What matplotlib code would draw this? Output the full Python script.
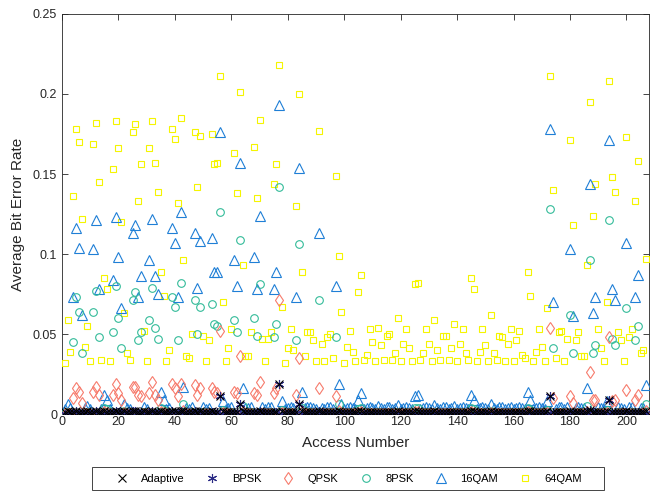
import numpy as np
import matplotlib
matplotlib.use("Agg")
import matplotlib.pyplot as plt
from matplotlib.lines import Line2D
from matplotlib.patches import Rectangle

plt.rcParams['font.family'] = ['Liberation Sans', 'DejaVu Sans']

# bit error rates, in units of 1e-3, one value per access number
adaptive = [
    1.2, 1.6, 1.1, 1.4, 1.8, 1.5, 1.3, 1.0, 1.7, 1.2,
    1.5, 1.9, 1.2, 1.0, 1.6, 1.4, 1.1, 1.3, 2.0, 1.5,
    1.3, 1.7, 1.0, 1.2, 1.8, 1.9, 1.3, 1.4, 1.6, 1.1,
    1.5, 2.0, 1.4, 1.2, 1.7, 1.5, 1.0, 1.2, 1.8, 1.6,
    1.2, 2.1, 1.8, 1.1, 1.0, 1.4, 1.7, 1.3, 1.6, 1.4,
    1.0, 1.3, 1.6, 1.4, 1.3, 11, 1.6, 1.0, 1.2, 1.5,
    1.4, 1.2, 6, 1.8, 1.1, 1.0, 1.4, 1.5, 1.2, 2.0,
    1.3, 1.0, 1.3, 1.4, 1.2, 1.3, 19, 1.6, 1.0, 1.2,
    1.5, 1.1, 1.1, 6, 1.7, 1.0, 1.4, 1.4, 1.3, 1.0,
    1.7, 1.2, 1.0, 1.3, 1.4, 1.0, 1.2, 1.9, 1.5, 1.0,
    1.2, 1.4, 1.1, 1.0, 1.6, 1.8, 1.0, 1.1, 1.5, 1.2,
    1.0, 1.5, 1.2, 1.0, 1.4, 1.4, 1.0, 1.1, 1.6, 1.0,
    1.2, 1.5, 1.2, 1.0, 1.7, 1.8, 1.0, 1.1, 1.5, 1.2,
    1.0, 1.6, 1.1, 1.0, 1.4, 1.4, 1.0, 1.2, 1.5, 1.0,
    1.2, 1.5, 1.1, 1.0, 1.8, 1.7, 1.0, 1.1, 1.5, 1.2,
    1.0, 1.6, 1.1, 1.0, 1.4, 1.4, 1.0, 1.2, 1.5, 1.0,
    1.3, 1.5, 1.1, 1.0, 1.8, 1.7, 1.0, 1.1, 1.5, 1.2,
    1.0, 1.7, 11, 1.3, 1.0, 1.4, 1.5, 1.0, 1.4, 1.6,
    1.2, 1.3, 1.4, 1.1, 1.1, 1.8, 2.5, 1.2, 1.4, 1.5,
    1.2, 1.0, 1.7, 9, 1.4, 1.3, 1.4, 1.3, 1.0, 1.6,
    1.3, 1.5, 1.2, 1.5, 1.1, 1.2, 1.8]

bpsk = [
    0.05, 0.1, 0.05, 1.0, 1.6, 1.4, 0.8, 0.05, 0.1, 0.05,
    1.4, 1.7, 1.1, 0.05, 0.3, 0.2, 0.05, 1.2, 1.8, 1.3,
    0.8, 0.15, 0.05, 0.05, 1.6, 1.7, 1.0, 1.2, 0.1, 0.05,
    1.3, 1.8, 1.2, 1.0, 0.3, 0.2, 0.05, 0.05, 1.6, 1.4,
    1.0, 1.9, 0.4, 0.05, 0.05, 0.1, 1.6, 1.1, 1.5, 0.1,
    0.05, 0.1, 1.5, 1.2, 1.2, 11, 0.2, 0.05, 0.05, 0.1,
    1.3, 1.0, 6, 0.4, 0.05, 0.05, 0.1, 1.4, 1.0, 1.9,
    0.1, 0.05, 0.1, 0.1, 1.1, 1.2, 19, 0.2, 0.05, 0.05,
    0.1, 0.05, 0.9, 6, 0.3, 0.05, 0.1, 0.1, 0.1, 0.05,
    1.6, 0.05, 0.05, 0.1, 0.1, 0.05, 1.1, 0.4, 0.15, 0.05,
    0.05, 0.1, 0.05, 0.05, 0.2, 0.3, 0.05, 0.05, 0.1, 0.05,
    0.05, 0.1, 0.05, 0.05, 0.1, 0.1, 0.05, 0.05, 0.15, 0.05,
    0.05, 0.1, 0.05, 0.05, 0.3, 0.3, 0.05, 0.05, 0.1, 0.05,
    0.05, 0.15, 0.05, 0.05, 0.1, 0.1, 0.05, 0.05, 0.1, 0.05,
    0.05, 0.1, 0.05, 0.05, 0.3, 0.2, 0.05, 0.05, 0.1, 0.05,
    0.05, 0.15, 0.05, 0.05, 0.1, 0.1, 0.05, 0.05, 0.1, 0.05,
    0.05, 0.1, 0.05, 0.05, 0.3, 0.2, 0.05, 0.05, 0.1, 0.05,
    0.05, 0.2, 11, 1.0, 0.05, 0.1, 0.1, 0.05, 0.1, 1.5,
    0.8, 0.1, 0.1, 0.05, 0.05, 0.4, 2.5, 0.9, 1.1, 0.1,
    0.05, 0.05, 0.2, 9, 1.1, 1.0, 0.1, 0.1, 0.05, 1.5,
    0.1, 0.1, 1.0, 1.2, 0.05, 0.05, 0.4]

qpsk = [
    0.1, 0.3, 0.1, 10, 16, 14, 7, 0.15, 0.2, 0.1,
    14, 17, 12, 0.1, 1, 0.8, 0.1, 12, 19, 13,
    9, 0.4, 0.1, 0.1, 17, 17, 12, 11, 0.2, 0.1,
    13, 20, 12, 9, 1.2, 0.7, 0.1, 0.1, 19, 16,
    11, 19, 2, 0.1, 0.1, 0.2, 18, 12, 16, 0.2,
    0.1, 0.2, 16, 14, 13, 52, 0.6, 0.1, 0.15, 0.2,
    14, 13, 36, 1.5, 0.1, 0.1, 0.2, 13, 12, 20,
    0.2, 0.1, 0.2, 0.2, 13, 16, 71, 0.6, 0.1, 0.15,
    0.2, 0.1, 12, 35, 1.2, 0.1, 0.2, 0.2, 0.2, 0.1,
    16, 0.15, 0.1, 0.2, 0.2, 0.1, 11, 2, 0.4, 0.1,
    0.15, 0.2, 0.1, 0.1, 0.8, 1.2, 0.1, 0.1, 0.2, 0.15,
    0.1, 0.2, 0.15, 0.1, 0.2, 0.2, 0.1, 0.1, 0.3, 0.1,
    0.15, 0.2, 0.15, 0.1, 1, 1, 0.1, 0.1, 0.2, 0.15,
    0.1, 0.3, 0.1, 0.1, 0.2, 0.2, 0.1, 0.15, 0.25, 0.1,
    0.15, 0.2, 0.1, 0.1, 1, 0.8, 0.1, 0.1, 0.2, 0.15,
    0.1, 0.4, 0.1, 0.1, 0.2, 0.2, 0.1, 0.15, 0.2, 0.1,
    0.15, 0.2, 0.1, 0.1, 1.2, 0.7, 0.1, 0.1, 0.2, 0.15,
    0.1, 0.6, 54, 10, 0.1, 0.2, 0.2, 0.1, 0.2, 11,
    7, 0.15, 0.2, 0.1, 0.1, 1.5, 26, 9, 9, 0.2,
    0.15, 0.1, 0.6, 48, 8, 9, 0.2, 0.2, 0.1, 15,
    0.2, 0.2, 9, 12, 0.1, 0.1, 2]

psk8 = [
    0.4, 1.5, 0.5, 45, 73, 64, 38, 0.6, 1.2, 0.4,
    64, 77, 48, 0.4, 3.5, 3, 0.4, 51, 80, 60,
    41, 2, 0.5, 0.4, 71, 76, 46, 51, 1, 0.4,
    59, 79, 54, 47, 4, 2.5, 0.4, 0.5, 73, 67,
    46, 82, 6, 0.5, 0.4, 1, 71, 50, 67, 1,
    0.4, 0.8, 69, 56, 55, 126, 2.5, 0.4, 0.6, 1,
    59, 51, 109, 5, 0.5, 0.5, 1, 60, 49, 81,
    0.9, 0.4, 0.9, 1, 48, 56, 142, 2.5, 0.4, 0.6,
    1, 0.5, 46, 106, 4, 0.5, 1, 1, 0.8, 0.4,
    71, 0.7, 0.4, 0.9, 1, 0.4, 48, 6, 2, 0.4,
    0.6, 1, 0.5, 0.4, 3, 4, 0.4, 0.5, 1, 0.7,
    0.4, 1.2, 0.6, 0.4, 0.9, 1, 0.4, 0.5, 1.5, 0.4,
    0.7, 1, 0.6, 0.4, 3.5, 3.5, 0.4, 0.5, 1, 0.7,
    0.4, 1.5, 0.5, 0.4, 0.9, 0.9, 0.4, 0.6, 1.2, 0.4,
    0.7, 1, 0.5, 0.4, 3.5, 3, 0.4, 0.5, 1, 0.6,
    0.4, 2, 0.5, 0.4, 0.9, 0.9, 0.4, 0.7, 1, 0.4,
    0.8, 1, 0.5, 0.4, 4, 2.5, 0.4, 0.5, 1, 0.6,
    0.4, 2.5, 128, 41, 0.4, 1, 1, 0.4, 0.9, 62,
    38, 0.8, 1, 0.5, 0.5, 5, 96, 38, 43, 1,
    0.6, 0.4, 2.5, 121, 47, 43, 1, 0.8, 0.4, 66,
    0.9, 1, 46, 55, 0.5, 0.5, 6]

qam16 = [
    3, 6, 3.5, 73, 116, 104, 62, 4, 5, 3,
    103, 121, 78, 3, 12, 9, 3, 84, 123, 98,
    66, 6, 3.5, 3, 113, 118, 73, 86, 4.5, 3,
    96, 122, 86, 75, 14, 9, 3, 3.5, 116, 107,
    73, 126, 17, 3.5, 3, 4.5, 113, 79, 108, 4.5,
    3, 4, 110, 89, 89, 176, 8, 3, 4, 4.5,
    96, 80, 157, 16, 3.5, 3.5, 4.5, 98, 78, 124,
    4.5, 3, 4.5, 4.5, 78, 89, 193, 8, 3, 4,
    4.5, 3.5, 73, 154, 14, 3.5, 4.5, 4.5, 4, 3,
    113, 4, 3, 4.5, 4.5, 3, 80, 19, 6, 3,
    4, 4.5, 3.5, 3, 9, 13, 3, 3.5, 4.5, 4,
    3, 5, 4, 3, 4.5, 4.5, 3, 3.5, 5.5, 3,
    4, 4.5, 4, 3, 11, 12, 3, 3.5, 4.5, 4,
    3, 5.5, 3.5, 3, 4.5, 4.5, 3, 4, 5, 3,
    4, 4.5, 3.5, 3, 12, 9, 3, 3.5, 4.5, 4,
    3, 6, 3.5, 3, 4.5, 4.5, 3, 4, 4.5, 3,
    4, 4.5, 3.5, 3, 14, 9, 3, 3.5, 4.5, 4,
    3, 8, 178, 70, 3, 4.5, 4.5, 3, 4.5, 103,
    61, 4, 4.5, 3.5, 3.5, 16, 144, 63, 73, 4.5,
    4, 3, 8, 171, 78, 71, 4.5, 4, 3, 107,
    4.5, 4.5, 73, 87, 3.5, 3.5, 18]

qam64 = [
    32, 59, 39, 136, 178, 170, 122, 42, 55, 33,
    169, 182, 145, 34, 85, 78, 33, 153, 183, 166,
    120, 63, 38, 34, 176, 181, 133, 156, 52, 33,
    166, 183, 157, 139, 89, 74, 33, 40, 178, 172,
    132, 185, 96, 36, 35, 50, 176, 142, 174, 49,
    33, 46, 175, 156, 157, 211, 70, 33, 41, 53,
    163, 138, 201, 93, 36, 36, 51, 167, 135, 184,
    47, 33, 47, 51, 144, 156, 218, 67, 32, 41,
    53, 40, 130, 200, 89, 36, 51, 51, 46, 33,
    177, 44, 33, 48, 50, 35, 149, 99, 64, 32,
    42, 52, 39, 33, 76, 87, 34, 37, 53, 45,
    33, 54, 43, 34, 49, 50, 34, 38, 60, 33,
    44, 53, 41, 33, 81, 82, 34, 38, 53, 44,
    33, 59, 40, 34, 49, 49, 34, 41, 56, 33,
    44, 53, 38, 34, 85, 78, 33, 39, 53, 43,
    33, 62, 38, 34, 49, 48, 33, 44, 53, 33,
    46, 52, 37, 35, 89, 74, 33, 39, 53, 42,
    33, 66, 211, 140, 35, 51, 52, 33, 47, 171,
    118, 46, 51, 36, 36, 93, 195, 124, 144, 53,
    41, 33, 70, 208, 148, 139, 51, 46, 33, 173,
    48, 53, 133, 158, 38, 40, 97]

labels = ['Adaptive', 'BPSK', 'QPSK', '8PSK', '16QAM', '64QAM']
series = [adaptive, bpsk, qpsk, psk8, qam16, qam64]
colors = ['#000000', '#2b2b85', '#f77b6c', '#33bb99', '#1f7fd6', '#f5f500']
# (6, 2, 0) is a six-armed asterisk, like MATLAB's '*'
markers = ['x', (6, 2, 0), 'd', 'o', '^', 's']
sizes = [5.5, 6.5, 6, 5.5, 6.5, 4.8]
zorders = [8, 7, 6, 5, 4, 3]

fig = plt.figure(figsize=(6.6, 4.91), dpi=100)
ax = fig.add_axes([0.0939, 0.1568, 0.8894, 0.8147])

handles = []
for vals, lab, c, m, ms, z in zip(series, labels, colors, markers, sizes, zorders):
    y = np.array(vals) * 1e-3
    x = np.arange(1, len(y) + 1)
    ax.plot(x, y, linestyle='none', marker=m, ms=ms, mfc='none', mec=c,
            mew=0.8, zorder=z)
    handles.append(Line2D([], [], linestyle='none', marker=m, ms=ms,
                          mfc='none', mec=c, mew=0.8, label=lab))

ax.set_xlim(0, 208)
ax.set_ylim(0, 0.25)
ax.set_xticks(range(0, 201, 20))
ax.set_yticks([0, 0.05, 0.1, 0.15, 0.2, 0.25])
ax.set_yticklabels(['0', '0.05', '0.1', '0.15', '0.2', '0.25'])
ax.tick_params(direction='in', top=True, right=True, length=4, width=0.6,
               labelsize=9, colors='#262626')
ax.tick_params(axis='x', pad=1.5)
for sp in ax.spines.values():
    sp.set_color('#262626')
    sp.set_linewidth(0.6)

ax.set_xlabel('Access Number', fontsize=11, color='#262626', labelpad=6)
ax.set_ylabel('Average Bit Error Rate', fontsize=11, color='#262626', labelpad=6)

# legend row under the axes, with its own box
leg = fig.legend(handles=handles, loc='center', ncol=6,
                 bbox_to_anchor=(0.527, 1 - 478.5 / 491), fontsize=8,
                 frameon=False, handlelength=1.5, handletextpad=1.0,
                 columnspacing=1.7, borderpad=0.2)
fig.patches.append(Rectangle((92 / 660, 1 - 490 / 491), (604 - 92) / 660,
                             23 / 491, transform=fig.transFigure,
                             fill=False, edgecolor='#262626', linewidth=0.6))

fig.savefig('out.png', dpi=100)
